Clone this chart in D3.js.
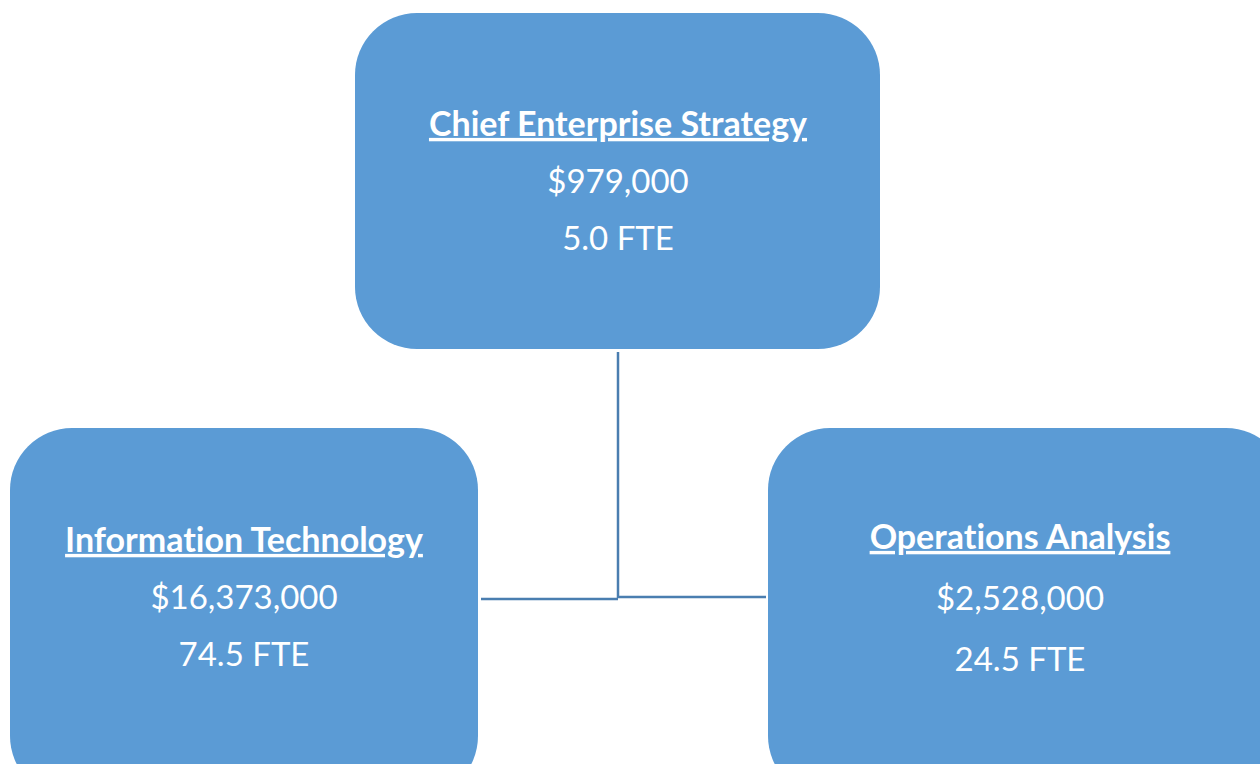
<!DOCTYPE html>
<html>
<head>
<meta charset="utf-8">
<script src="https://cdn.jsdelivr.net/npm/d3@7"></script>
<style>
  body { margin: 0; background: #fff; }
  svg text { font-family: Lato, "Open Sans", sans-serif; fill: #fff; font-variant-ligatures: none; }
</style>
</head>
<body>
<svg id="chart" width="1260" height="764"></svg>
<script>
// org units
const units = ["Chief Enterprise Strategy", "Information Technology", "Operations Analysis"];
const budgets = ["$979,000", "$16,373,000", "$2,528,000"];
const fte = ["5.0 FTE", "74.5 FTE", "24.5 FTE"];
const parentOf = [null, 0, 0];

// box layout (x, y, w, h), boxes may run off the page like in the original
const boxes = [
  { x: 355, y: 13, w: 525, h: 336 },
  { x: 10, y: 428, w: 468, h: 370 },
  { x: 768, y: 428, w: 520, h: 370 }
];
const textCx = [618, 244, 1020];
const titleY = [124, 540, 537];
const lineGap = [57, 57, 61];

const svg = d3.select("#chart");

// connectors first, under the boxes
const busY = 598;
const trunkX = 618;
svg.append("path")
  .attr("d", "M" + trunkX + "," + (boxes[0].y + boxes[0].h + 3) + "V" + busY)
  .attr("stroke", "#4a7eb0").attr("stroke-width", 2.5).attr("fill", "none");
svg.append("path")
  .attr("d", "M" + (boxes[1].x + boxes[1].w + 3) + "," + (busY + 1) + "H" + trunkX)
  .attr("stroke", "#4a7eb0").attr("stroke-width", 2.5).attr("fill", "none");
svg.append("path")
  .attr("d", "M" + trunkX + "," + (busY - 1) + "H" + (boxes[2].x - 2))
  .attr("stroke", "#4a7eb0").attr("stroke-width", 2.5).attr("fill", "none");

const node = svg.selectAll("g.unit")
  .data(units)
  .join("g")
  .attr("class", "unit");

node.append("rect")
  .attr("x", (d, i) => boxes[i].x)
  .attr("y", (d, i) => boxes[i].y)
  .attr("width", (d, i) => boxes[i].w)
  .attr("height", (d, i) => boxes[i].h)
  .attr("rx", 62).attr("ry", 62)
  .attr("fill", "#5b9bd5");

node.append("text")
  .attr("x", (d, i) => textCx[i])
  .attr("y", (d, i) => titleY[i])
  .attr("dy", "0.35em")
  .attr("text-anchor", "middle")
  .style("font-size", "34px")
  .style("font-weight", "bold")
  .style("text-decoration", "underline")
  .text(d => d);

node.append("text")
  .attr("x", (d, i) => textCx[i])
  .attr("y", (d, i) => titleY[i] + lineGap[i])
  .attr("dy", "0.35em")
  .attr("text-anchor", "middle")
  .style("font-size", "33px")
  .text((d, i) => budgets[i]);

node.append("text")
  .attr("x", (d, i) => textCx[i])
  .attr("y", (d, i) => titleY[i] + 2 * lineGap[i])
  .attr("dy", "0.35em")
  .attr("text-anchor", "middle")
  .style("font-size", "33px")
  .text((d, i) => fte[i]);
</script>
</body>
</html>
